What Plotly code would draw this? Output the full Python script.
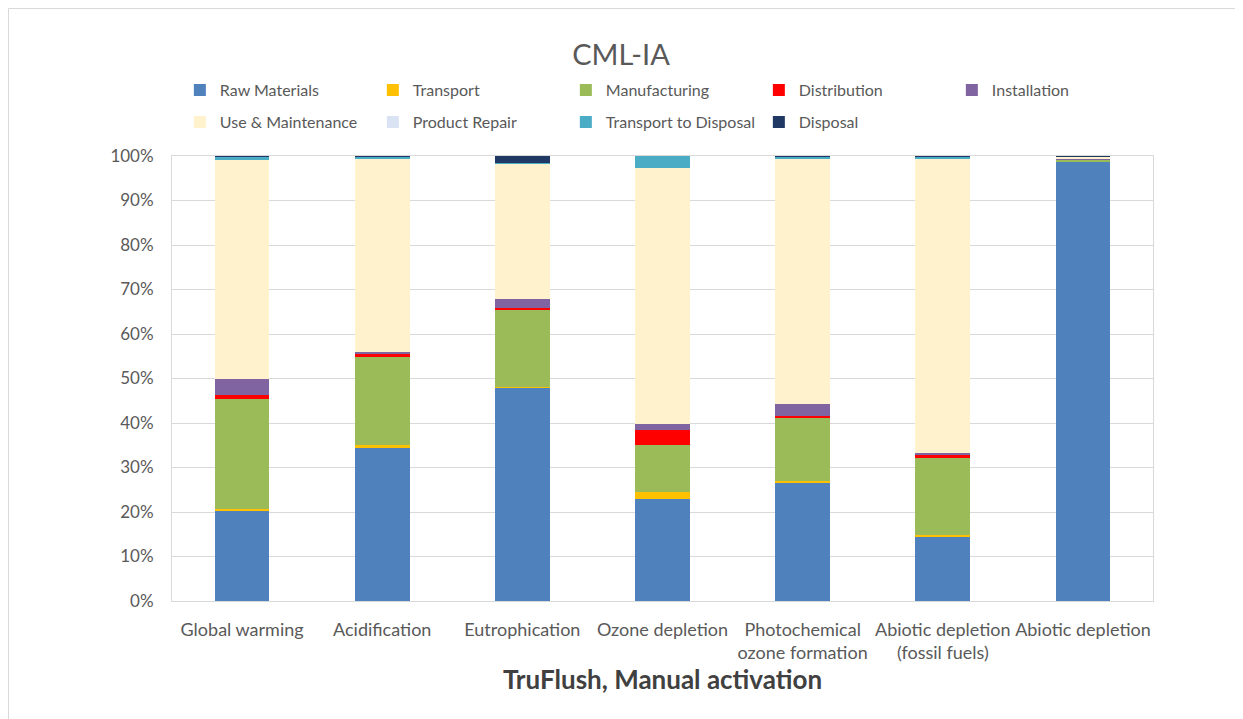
import plotly.graph_objects as go

categories = ["Global warming", "Acidification", "Eutrophication", "Ozone depletion",
              "Photochemical<br>ozone formation", "Abiotic depletion<br>(fossil fuels)",
              "Abiotic depletion"]

stages = ["Raw Materials", "Transport", "Manufacturing", "Distribution", "Installation",
          "Use & Maintenance", "Product Repair", "Transport to Disposal", "Disposal"]

# shares in %, one list per life-cycle stage
raw_materials = [20.4, 34.6, 47.9, 22.9, 26.6, 14.4, 98.7]
transport = [0.3, 0.4, 0.1, 1.6, 0.4, 0.4, 0.1]
manufacturing = [24.7, 19.8, 17.6, 10.6, 14.2, 17.4, 0.4]
distribution = [1.0, 0.8, 0.3, 3.3, 0.4, 0.7, 0.05]
installation = [3.5, 0.4, 2.0, 1.3, 2.7, 0.3, 0.05]
use_maintenance = [49.2, 43.5, 30.4, 57.5, 55.2, 66.3, 0.6]
product_repair = [0.0, 0.0, 0.0, 0.0, 0.0, 0.0, 0.0]
transport_disposal = [0.8, 0.4, 0.2, 2.8, 0.4, 0.4, 0.05]
disposal = [0.1, 0.1, 1.5, 0.0, 0.1, 0.1, 0.05]

series = [raw_materials, transport, manufacturing, distribution, installation,
          use_maintenance, product_repair, transport_disposal, disposal]
colors = ["#4f81bd", "#ffc000", "#9bbb59", "#ff0000", "#8064a2",
          "#fff2cc", "#dae3f3", "#4bacc6", "#1f3864"]

fig = go.Figure()
for i, (name, vals, col) in enumerate(zip(stages, series, colors)):
    fig.add_trace(go.Bar(
        x=categories, y=[v / 100 for v in vals], name=name,
        marker=dict(color=col, line=dict(width=0)),
        legend="legend" if i < 5 else "legend2",
    ))

grey = "#595959"
leg = dict(orientation="h", xanchor="left", yanchor="middle",
           entrywidth=148, entrywidthmode="pixels", traceorder="normal",
           font=dict(size=16, color=grey), bgcolor="rgba(0,0,0,0)")

# page body adds 8px, so margins are shifted by 8
fig.update_layout(
    barmode="stack",
    bargap=0.61,
    width=1243, height=719,
    margin=dict(l=164, r=98, t=148, b=126, autoexpand=False),
    paper_bgcolor="white", plot_bgcolor="white",
    font=dict(family="Lato, Open Sans, sans-serif", color=grey, size=16),
    title=dict(text="CML-IA", x=(621 - 8) / 1243, xanchor="center",
               y=1 - 47 / 719, yanchor="middle",
               font=dict(size=29, color=grey)),
    legend=dict(leg, x=0.008, y=(601 - 90) / 445),
    legend2=dict(leg, x=0.008, y=(601 - 122) / 445),
    xaxis=dict(title=dict(text="<b>TruFlush, Manual activation</b>",
                          font=dict(size=26, color="#404040"), standoff=8),
               showline=True, linecolor="#d9d9d9", mirror=True,
               tickfont=dict(size=18, color=grey), ticks="",
               ticklabelstandoff=12),
    yaxis=dict(range=[0, 1], tickformat=".0%", dtick=0.1,
               showgrid=True, gridcolor="#d9d9d9", gridwidth=1,
               showline=True, linecolor="#d9d9d9", mirror=True,
               tickfont=dict(size=17, color=grey), ticks="", zeroline=False,
               ticklabelstandoff=14),
)

# thin outer chart frame
fig.add_shape(type="rect", xref="paper", yref="paper",
              x0=(0.5 - 164) / 981, x1=(1229 - 164) / 981,
              y0=(593 - 740) / 445, y1=(593 - 0.5) / 445,
              line=dict(color="#d9d9d9", width=1), layer="below")

fig.write_html("out.html")
